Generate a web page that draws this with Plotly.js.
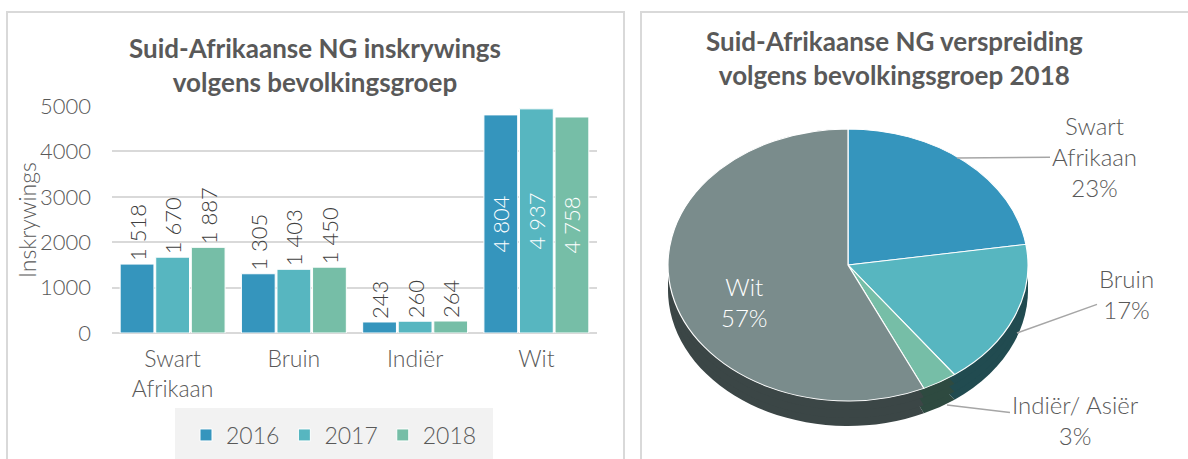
<!DOCTYPE html>
<html><head><meta charset="utf-8">
<script src="https://cdn.plot.ly/plotly-3.0.1.min.js"></script>
<style>html,body{margin:0;padding:0;background:#fff;} #chart{width:1188px;height:459px;}</style>
</head><body><div id="chart"></div>
<script>
// ---- data ----
const categories = ['Swart<br>Afrikaan', 'Bruin', 'Indiër', 'Wit'];
const years = ['2016', '2017', '2018'];
const values2016 = [1518, 1305, 243, 4804];
const values2017 = [1670, 1403, 260, 4937];
const values2018 = [1887, 1450, 264, 4758];
const yTicks = [0, 1000, 2000, 3000, 4000, 5000];
const pieLabels = ['Swart Afrikaan', 'Bruin', 'Indiër/ Asiër', 'Wit'];
const pieValues = [1887, 1450, 264, 4758];

// ---- styles ----
const W = 1188, H = 459;
const barColors = ['#3595bd', '#57b6c0', '#76bea7'];
const pieColors = ['#3595bd', '#57b6c0', '#76bea7', '#7a8c8c'];
const pieSideColors = ['#1d5c76', '#214b50', '#2e4a40', '#3b4646'];
const FONT = 'Lato, "DejaVu Sans", sans-serif';
const px = x => x / W, py = y => 1 - y / H;

const fmt = v => String(v).replace(/\B(?=(\d{3})+(?!\d))/g, ' ');
const barSeries = [values2016, values2017, values2018];
const textPos = categories.map((c, i) => i === categories.length - 1 ? 'inside' : 'outside');

const data = barSeries.map((vals, k) => ({
  type: 'bar', name: years[k], x: categories, y: vals,
  text: vals.map(fmt), texttemplate: '%{text}', textposition: textPos, textangle: -90,
  insidetextanchor: 'middle', constraintext: 'none', cliponaxis: false,
  textfont: { family: FONT, size: 22, weight: 300 },
  outsidetextfont: { family: FONT, size: 22, weight: 300, color: '#404040' },
  insidetextfont: { family: FONT, size: 22, weight: 300, color: '#ffffff' },
  marker: { color: barColors[k], line: { color: '#ffffff', width: 1 } },
  hoverinfo: 'skip'
}));

// pie: cx 848, r 180, squashed vertically into an ellipse afterwards
const pieDomainX = [px(848 - 180), px(848 + 180)];
const pieDomainY = [0.1, 0.9];
const sideOffsets = [25, 17, 9];
sideOffsets.forEach(() => data.push({
  type: 'pie', values: pieValues, labels: pieLabels, sort: false, direction: 'clockwise', rotation: 0,
  textinfo: 'none', hoverinfo: 'skip', showlegend: false, domain: { x: pieDomainX, y: pieDomainY },
  marker: { colors: pieSideColors, line: { color: 'rgba(0,0,0,0)', width: 0 } }
}));
data.push({
  type: 'pie', values: pieValues, labels: pieLabels, sort: false, direction: 'clockwise', rotation: 0,
  textinfo: 'none', hoverinfo: 'skip', showlegend: false, domain: { x: pieDomainX, y: pieDomainY },
  marker: { colors: pieColors, line: { color: '#ffffff', width: 1.2 } }
});

const total = pieValues.reduce((a, b) => a + b, 0);
const pct = v => Math.round(v / total * 100) + '%';
const pieLabelPos = [
  { tip: [957, 158], txt: [1094, 157], label: 'Swart<br>Afrikaan' },
  { tip: [1017, 333], txt: [1126, 294], label: 'Bruin' },
  { tip: [947, 405], txt: [1075, 420], label: 'Indiër/ Asiër' }
];
const annotations = [
  { text: 'Inskrywings', x: px(27), y: py(220), xref: 'paper', yref: 'paper', showarrow: false,
    xanchor: 'center', yanchor: 'middle',
    textangle: -90, font: { family: FONT, size: 23, weight: 300, color: '#595959' } },
  { text: 'Suid-Afrikaanse NG verspreiding<br>volgens bevolkingsgroep 2018', x: px(894), y: py(58),
    xref: 'paper', yref: 'paper', showarrow: false, xanchor: 'center', yanchor: 'middle',
    font: { family: FONT, size: 26, weight: 700, color: '#595959' } },
  { text: 'Wit<br>' + pct(pieValues[3]), x: px(744), y: py(302), xref: 'paper', yref: 'paper',
    xanchor: 'center', yanchor: 'middle',
    showarrow: false, font: { family: FONT, size: 24, weight: 300, color: '#ffffff' } }
];
pieLabelPos.forEach((p, i) => annotations.push({
  text: p.label + '<br>' + pct(pieValues[i]), x: px(p.tip[0]), y: py(p.tip[1]), xref: 'paper', yref: 'paper',
  showarrow: true, arrowhead: 0, arrowwidth: 1.5, arrowcolor: '#a6a6a6', standoff: 0,
  ax: p.txt[0] - p.tip[0], ay: p.txt[1] - p.tip[1],
  font: { family: FONT, size: 24, weight: 300, color: '#595959' }
}));

const shapes = [
  { type: 'rect', xref: 'paper', yref: 'paper', x0: px(175), x1: px(493), y0: -0.05, y1: py(408),
    fillcolor: '#f2f2f2', line: { width: 0 }, layer: 'below' },
  { type: 'rect', xref: 'paper', yref: 'paper', x0: px(7), x1: px(624), y0: -0.05, y1: py(12),
    fillcolor: 'rgba(0,0,0,0)', line: { color: '#d9d9d9', width: 2 }, layer: 'below' },
  { type: 'rect', xref: 'paper', yref: 'paper', x0: px(641), x1: 1.05, y0: -0.05, y1: py(12),
    fillcolor: 'rgba(0,0,0,0)', line: { color: '#d9d9d9', width: 2 }, layer: 'below' }
];

const layout = {
  width: W, height: H, margin: { l: 0, r: 0, t: 0, b: 0 },
  paper_bgcolor: '#ffffff', plot_bgcolor: 'rgba(0,0,0,0)',
  font: { family: FONT, size: 22, weight: 300, color: '#595959' },
  title: { text: 'Suid-Afrikaanse NG inskrywings<br>volgens bevolkingsgroep', x: px(315), xanchor: 'center',
    y: py(58), yanchor: 'middle', font: { family: FONT, size: 26, weight: 700, color: '#595959' } },
  barmode: 'group', bargap: 0.12, bargroupgap: 0.05,
  xaxis: { domain: [px(112), px(597)], showgrid: false, showline: false, zeroline: false, ticks: '',
    tickfont: { size: 23 }, ticklabelstandoff: 10, fixedrange: true },
  yaxis: { domain: [1 - 333 / H, 1 - 106 / H], range: [0, 5000], tickvals: yTicks, ticktext: yTicks.map(String),
    showgrid: true, gridcolor: '#d9d9d9', gridwidth: 2, zeroline: true, zerolinecolor: '#d9d9d9', zerolinewidth: 2,
    showline: false, ticks: '', tickfont: { size: 22 }, ticklabelstandoff: 20, fixedrange: true },
  showlegend: true,
  legend: { orientation: 'h', x: px(334), y: py(435), xanchor: 'center', yanchor: 'middle',
    bgcolor: 'rgba(0,0,0,0)', font: { size: 23 }, traceorder: 'normal' },
  shapes: shapes, annotations: annotations
};

Plotly.newPlot('chart', data, layout, { staticPlot: true }).then(gd => {
  const s = 136 / 180;
  const cy0 = H * (1 - (pieDomainY[0] + pieDomainY[1]) / 2);
  const targets = sideOffsets.map(o => 265 + o).concat([265]);
  const groups = gd.querySelectorAll('.pielayer .trace');
  groups.forEach((g, i) => {
    const t = targets[i] - s * cy0;
    g.setAttribute('transform', 'translate(0,' + t + ') scale(1,' + s + ')');
  });
});
</script>
</body></html>
